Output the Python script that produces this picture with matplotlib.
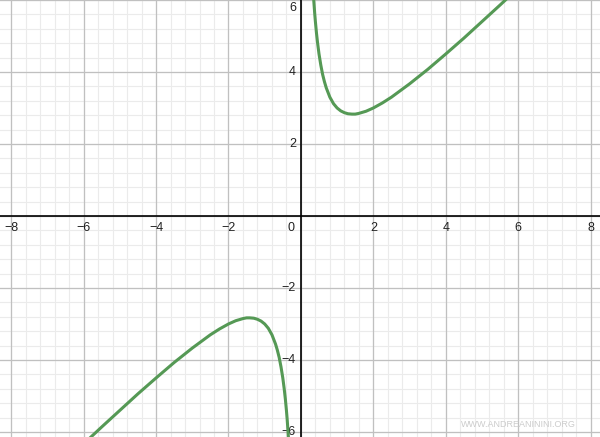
import numpy as np
import matplotlib
matplotlib.use("Agg")
import matplotlib.pyplot as plt
from matplotlib.transforms import offset_copy

plt.rcParams['font.family'] = ['Liberation Sans', 'DejaVu Sans']

# points (right branch and left branch)
x_right = [0.32, 0.34, 0.36, 0.38, 0.40, 0.43, 0.46, 0.50, 0.55, 0.60, 0.65, 0.70, 0.80, 0.90,
           1.00, 1.10, 1.20, 1.30, 1.41, 1.50, 1.60, 1.80, 2.00, 2.25, 2.50, 3.00, 3.50,
           4.00, 4.50, 5.00, 5.50, 6.00]
y_right = [6.57, 6.22, 5.92, 5.64, 5.40, 5.08, 4.81, 4.50, 4.19, 3.93, 3.73, 3.56, 3.30, 3.12,
           3.00, 2.92, 2.87, 2.84, 2.83, 2.83, 2.85, 2.91, 3.00, 3.14, 3.30, 3.67, 4.07,
           4.50, 4.94, 5.40, 5.86, 6.33]
x_left = [-6.00, -5.50, -5.00, -4.50, -4.00, -3.50, -3.00, -2.50, -2.25, -2.00, -1.80, -1.60,
          -1.50, -1.41, -1.30, -1.20, -1.10, -1.00, -0.90, -0.80, -0.70, -0.65, -0.60, -0.55,
          -0.50, -0.46, -0.43, -0.40, -0.38, -0.36, -0.34, -0.32]
y_left = [-6.33, -5.86, -5.40, -4.94, -4.50, -4.07, -3.67, -3.30, -3.14, -3.00, -2.91, -2.85,
          -2.83, -2.83, -2.84, -2.87, -2.92, -3.00, -3.12, -3.30, -3.56, -3.73, -3.93, -4.19,
          -4.50, -4.81, -5.08, -5.40, -5.64, -5.92, -6.22, -6.57]

x_ticks = [-8, -6, -4, -2, 2, 4, 6, 8]
y_ticks = [-6, -4, -2, 2, 4]

fig = plt.figure(figsize=(6, 4.37), dpi=100)
ax = fig.add_axes([0, 0, 1, 1])
ax.set_xlim(-8.31, 8.26)
ax.set_ylim(-6.14, 6.0)
ax.axis("off")

# griglia
minor = np.arange(-10, 10.01, 0.4)
for v in minor:
    ax.axvline(v, color="#ebebeb", lw=0.8, zorder=0)
    ax.axhline(v, color="#ebebeb", lw=0.8, zorder=0)
for v in range(-10, 11, 2):
    ax.axvline(v, color="#c0c0c0", lw=0.9, zorder=1)
    ax.axhline(v, color="#c0c0c0", lw=0.9, zorder=1)
ax.axhline(0, color="black", lw=1.2, zorder=2)
ax.axvline(0, color="black", lw=1.2, zorder=2)

# etichette
tx = offset_copy(ax.transData, fig=fig, x=0, y=-12, units="dots")
for v in x_ticks:
    ax.text(v, 0, str(v).replace("-", "\u2212"), transform=tx, ha="center", va="center",
            fontsize=9, color="#222222", zorder=3)
ty = offset_copy(ax.transData, fig=fig, x=-5, y=0, units="dots")
for v in y_ticks:
    ax.text(0, v, str(v).replace("-", "\u2212"), transform=ty, ha="right", va="center",
            fontsize=9, color="#222222", zorder=3)
# the "6" at the top edge is cut in the reference; keep it just inside
ax.text(0, 6, "6", transform=offset_copy(ax.transData, fig=fig, x=-5, y=-2, units="dots"),
        ha="right", va="top", fontsize=9, color="#222222", zorder=3)
t0 = offset_copy(ax.transData, fig=fig, x=-6, y=-12, units="dots")
ax.text(0, 0, "0", transform=t0, ha="right", va="center", fontsize=9, color="#222222")

ax.plot(x_right, y_right, color="#559955", lw=2.2, zorder=4, solid_capstyle="round")
ax.plot(x_left, y_left, color="#559955", lw=2.2, zorder=4, solid_capstyle="round")

ax.text(0.96, 0.018, "WWW.ANDREANININI.ORG", transform=ax.transAxes, ha="right",
        va="bottom", fontsize=6.5, color="#cccccc")

fig.savefig("out.png", dpi=100)
